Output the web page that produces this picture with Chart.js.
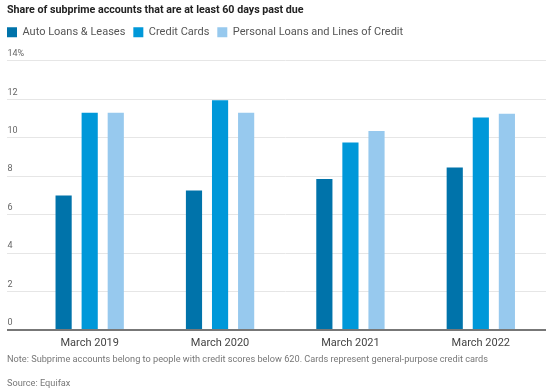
<!DOCTYPE html>
<html>
<head>
<meta charset="utf-8">
<script src="https://cdn.jsdelivr.net/npm/chart.js@4"></script>
<style>
  html, body { margin: 0; padding: 0; background: #fff; }
  #wrap { width: 550px; height: 390px; }
</style>
</head>
<body>
<div id="wrap"><canvas id="myChart"></canvas></div>
<script>
let categories = ["March 2019", "March 2020", "March 2021", "March 2022"];
let autoLoans = [7.0, 7.25, 7.85, 8.45];
let creditCards = [11.3, 11.95, 9.75, 11.05];
let personalLoans = [11.3, 11.3, 10.35, 11.25];
let yTicks = [0, 2, 4, 6, 8, 10, 12, 14];

let fontNaam = "Roboto, 'Noto Sans', sans-serif";

const data = {
    labels: categories,
    datasets: [
        { label: "Auto Loans & Leases", data: autoLoans, backgroundColor: "#0073aa" },
        { label: "Credit Cards", data: creditCards, backgroundColor: "#0098d9" },
        { label: "Personal Loans and Lines of Credit", data: personalLoans, backgroundColor: "#97c9ee" }
    ]
};

// extra ruimte onder de legenda + legenda iets naar links schuiven
const legendaRuimte = {
    id: "legendaRuimte",
    beforeInit(chart) {
        const origFit = chart.legend.fit;
        chart.legend.fit = function () {
            origFit.bind(chart.legend)();
            this.height += 13;
        };
    },
    afterLayout(chart) {
        chart.legend.left -= 8;
        chart.legend.right -= 8;
    }
};

const config = {
    type: "bar",
    data,
    options: {
        responsive: true,
        maintainAspectRatio: false,
        animation: false,
        layout: { padding: { left: 7, right: 4, top: 2, bottom: -6 } },
        datasets: {
            bar: { categoryPercentage: 0.6, barPercentage: 0.62 }
        },
        plugins: {
            title: {
                display: true,
                text: "Share of subprime accounts that are at least 60 days past due",
                align: "start",
                color: "#222",
                font: { family: fontNaam, size: 10.7, weight: "bold" },
                padding: { top: 2, bottom: 2 }
            },
            legend: {
                display: true,
                align: "start",
                labels: {
                    boxWidth: 10,
                    boxHeight: 10,
                    padding: 8,
                    color: "#555",
                    font: { family: fontNaam, size: 11 }
                }
            },
            subtitle: {
                display: true,
                position: "bottom",
                align: "start",
                text: ["Note: Subprime accounts belong to people with credit scores below 620. Cards represent general-purpose credit cards", "Source: Equifax"],
                color: "#777",
                font: { family: fontNaam, size: 9.2, lineHeight: 2.6 },
                padding: { top: 0, bottom: 0 }
            },
            tooltip: { enabled: false }
        },
        scales: {
            x: {
                grid: { display: false, drawTicks: false },
                border: { display: false },
                afterFit: (s) => { s.height -= 9; },
                ticks: { color: "#444", font: { family: fontNaam, size: 11 }, padding: 7 }
            },
            y: {
                min: 0,
                max: 14,
                afterBuildTicks: (as) => { as.ticks = yTicks.map(v => ({ value: v })); },
                afterFit: (s) => { s.width = 17.5; },
                grid: {
                    color: (c) => c.tick && c.tick.value === 0 ? "#777" : "#e6e6e6",
                    lineWidth: (c) => c.tick && c.tick.value === 0 ? 2 : 1,
                    drawTicks: true,
                    tickLength: 17.5
                },
                border: { display: false },
                ticks: {
                    mirror: true,
                    padding: -17,
                    labelOffset: -7,
                    color: "#666",
                    font: { family: fontNaam, size: 9 },
                    callback: (v) => v === 14 ? v + "%" : v
                }
            }
        }
    },
    plugins: [legendaRuimte]
};

const myChart = new Chart(document.getElementById("myChart"), config);
</script>
</body>
</html>
